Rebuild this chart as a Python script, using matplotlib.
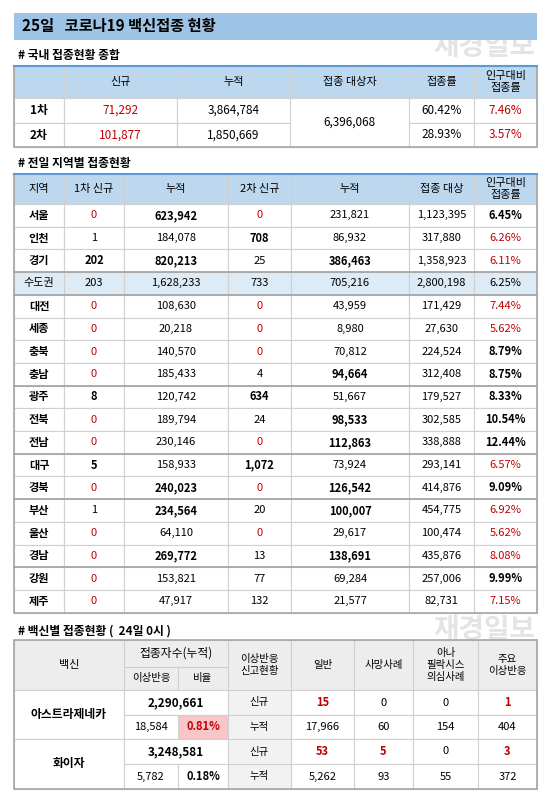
import matplotlib.pyplot as plt
from matplotlib.patches import Rectangle

plt.rcParams['font.family'] = ['Noto Sans CJK KR', 'DejaVu Sans']

RED = '#C00000'
HEAD = '#BDD7EE'
GRID = '#D0D0D0'

# table 1: national summary
t1_head = ['', '신규', '누적', '접종 대상자', '접종률', '인구대비\n접종률']
t1_rows = ['1차', '2차']
t1_new = ['71,292', '101,877']
t1_cum = ['3,864,784', '1,850,669']
t1_target = '6,396,068'
t1_rate = ['60.42%', '28.93%']
t1_pop = ['7.46%', '3.57%']

# table 2: by region
t2_head = ['지역', '1차 신규', '누적', '2차 신규', '누적', '접종 대상', '인구대비\n접종률']
regions = ['서울', '인천', '경기', '수도권', '대전', '세종', '충북', '충남', '광주', '전북',
           '전남', '대구', '경북', '부산', '울산', '경남', '강원', '제주']
new1 = ['0', '1', '202', '203', '0', '0', '0', '0', '8', '0', '0', '5', '0', '1', '0', '0', '0', '0']
cum1 = ['623,942', '184,078', '820,213', '1,628,233', '108,630', '20,218', '140,570', '185,433',
        '120,742', '189,794', '230,146', '158,933', '240,023', '234,564', '64,110', '269,772',
        '153,821', '47,917']
new2 = ['0', '708', '25', '733', '0', '0', '0', '4', '634', '24', '0', '1,072', '0', '20', '0',
        '13', '77', '132']
cum2 = ['231,821', '86,932', '386,463', '705,216', '43,959', '8,980', '70,812', '94,664',
        '51,667', '98,533', '112,863', '73,924', '126,542', '100,007', '29,617', '138,691',
        '69,284', '21,577']
target = ['1,123,395', '317,880', '1,358,923', '2,800,198', '171,429', '27,630', '224,524',
          '312,408', '179,527', '302,585', '338,888', '293,141', '414,876', '454,775', '100,474',
          '435,876', '257,006', '82,731']
poprate = ['6.45%', '6.26%', '6.11%', '6.25%', '7.44%', '5.62%', '8.79%', '8.75%', '8.33%',
           '10.54%', '12.44%', '6.57%', '9.09%', '6.92%', '5.62%', '8.08%', '9.99%', '7.15%']
# style per cell: r = red, b = bold
st_new1 = ['r', '', 'b', '', 'r', 'r', 'r', 'r', 'b', 'r', 'r', 'b', 'r', '', 'r', 'r', 'r', 'r']
st_cum1 = ['b', '', 'b', '', '', '', '', '', '', '', '', '', 'b', 'b', '', 'b', '', '']
st_new2 = ['r', 'b', '', '', 'r', 'r', 'r', '', 'b', '', 'r', 'b', 'r', '', 'r', '', '', '']
st_cum2 = ['', '', 'b', '', '', '', '', 'b', '', 'b', 'b', '', 'b', 'b', '', 'b', '', '']
st_pop = ['b', 'r', 'r', '', 'r', 'r', 'b', 'b', 'b', 'b', 'b', 'r', 'b', 'r', 'r', 'r', 'b', 'r']
group_ends = [2, 3, 7, 10, 12, 15]

# table 3: by vaccine
vaccines = ['아스트라제네카', '화이자']
v_total = ['2,290,661', '3,248,581']
v_adverse = ['18,584', '5,782']
v_ratio = ['0.81%', '0.18%']
v_new = [['15', '0', '0', '1'], ['53', '5', '0', '3']]
v_cum = [['17,966', '60', '154', '404'], ['5,262', '93', '55', '372']]

fig = plt.figure(figsize=(5.5, 7.98), dpi=100)
ax = fig.add_axes([0, 0, 1, 1])
ax.set_xlim(0, 550)
ax.set_ylim(798, 0)
ax.axis('off')


def cell(x0, x1, y0, y1, txt='', fc='white', st='', fs=8.5, color='black', ec=GRID, lw=0.8):
    ax.add_patch(Rectangle((x0, y0), x1 - x0, y1 - y0, fc=fc, ec=ec, lw=lw))
    if txt:
        ax.text((x0 + x1) / 2, (y0 + y1) / 2, txt, ha='center', va='center', fontsize=fs,
                color=RED if 'r' in st else color,
                fontweight='bold' if 'b' in st else 'normal', linespacing=1.3)


# watermark
for wy in (47, 630):
    ax.text(535, wy, '재경일보', ha='right', va='center', fontsize=20, color='#E4E4E4',
            fontweight='bold', zorder=0)

# title
ax.add_patch(Rectangle((14, 13), 523, 27, fc='#9DC3E6', ec='none'))
ax.text(22, 26.5, '25일   코로나19 백신접종 현황', fontsize=11, fontweight='bold', va='center')

# table 1
ax.text(18, 55, '# 국내 접종현황 종합', fontsize=8.5, fontweight='bold', va='center')
xs1 = [14, 64, 177, 290, 409, 474, 537]
ty1 = [66, 98, 123, 147]
for i, h in enumerate(t1_head):
    cell(xs1[i], xs1[i + 1], ty1[0], ty1[1], h, fc=HEAD, fs=8)
for r in range(2):
    y0, y1 = ty1[1 + r], ty1[2 + r]
    cell(xs1[0], xs1[1], y0, y1, t1_rows[r], st='b')
    cell(xs1[1], xs1[2], y0, y1, t1_new[r], st='r')
    cell(xs1[2], xs1[3], y0, y1, t1_cum[r])
    cell(xs1[4], xs1[5], y0, y1, t1_rate[r])
    cell(xs1[5], xs1[6], y0, y1, t1_pop[r], st='r')
cell(xs1[3], xs1[4], ty1[1], ty1[3], t1_target)
ax.plot([14, 537], [ty1[0], ty1[0]], color='#5B9BD5', lw=1.5)
ax.add_patch(Rectangle((14, ty1[0]), 523, ty1[3] - ty1[0], fc='none', ec='#A6A6A6', lw=1.2))

# table 2
ax.text(18, 164, '# 전일 지역별 접종현황', fontsize=8.5, fontweight='bold', va='center')
xs2 = [14, 64, 124, 228, 291, 409, 474, 537]
top2 = 174
hh2 = 30
rh = 22.7
for i, h in enumerate(t2_head):
    cell(xs2[i], xs2[i + 1], top2, top2 + hh2, h, fc=HEAD, fs=8)
for r in range(len(regions)):
    y0 = top2 + hh2 + r * rh
    y1 = y0 + rh
    fc = '#DDEBF7' if regions[r] == '수도권' else 'white'
    vals = [regions[r], new1[r], cum1[r], new2[r], cum2[r], target[r], poprate[r]]
    sts = ['' if regions[r] == '수도권' else 'b', st_new1[r], st_cum1[r], st_new2[r],
           st_cum2[r], '', st_pop[r]]
    for c in range(7):
        cell(xs2[c], xs2[c + 1], y0, y1, vals[c], fc=fc, st=sts[c], fs=8)
    if r in group_ends:
        ax.plot([14, 537], [y1, y1], color='#A6A6A6', lw=1.3)
bot2 = top2 + hh2 + len(regions) * rh
ax.plot([14, 537], [top2, top2], color='#5B9BD5', lw=1.5)
ax.add_patch(Rectangle((14, top2), 523, bot2 - top2, fc='none', ec='#A6A6A6', lw=1.2))

# table 3
ax.text(18, 631, '# 백신별 접종현황 (  24일 0시 )', fontsize=8.5, fontweight='bold', va='center')
xs3 = [14, 124, 178, 228, 291, 354, 413, 478, 537]
GRAY = '#EDEDED'
t3y = [640, 667, 690, 715, 739, 764, 789]
cell(xs3[0], xs3[1], t3y[0], t3y[2], '백신', fc=GRAY, fs=8)
cell(xs3[1], xs3[3], t3y[0], t3y[1], '접종자수(누적)', fc=GRAY, fs=8.5)
cell(xs3[1], xs3[2], t3y[1], t3y[2], '이상반응', fc=GRAY, fs=7.5)
cell(xs3[2], xs3[3], t3y[1], t3y[2], '비율', fc=GRAY, fs=7.5)
for i, h in enumerate(['이상반응\n신고현황', '일반', '사망사례', '아나\n필락시스\n의심사례', '주요\n이상반응']):
    cell(xs3[3 + i], xs3[4 + i], t3y[0], t3y[2], h, fc=GRAY, fs=7.5)
for v in range(2):
    ya, yb, yc = t3y[2 + 2 * v], t3y[3 + 2 * v], t3y[4 + 2 * v]
    cell(xs3[0], xs3[1], ya, yc, vaccines[v], st='b', fs=8.5)
    cell(xs3[1], xs3[3], ya, yb, v_total[v], st='b', fs=8.5)
    cell(xs3[1], xs3[2], yb, yc, v_adverse[v], fs=8)
    cell(xs3[2], xs3[3], yb, yc, v_ratio[v], st='rb' if v == 0 else 'b', fs=8,
         fc='#F8C6C9' if v == 0 else 'white')
    cell(xs3[3], xs3[4], ya, yb, '신규', fc='#F2F2F2', fs=7.5)
    cell(xs3[3], xs3[4], yb, yc, '누적', fc='#F2F2F2', fs=7.5)
    for k in range(4):
        nv = v_new[v][k]
        cell(xs3[4 + k], xs3[5 + k], ya, yb, nv, st='' if nv == '0' else 'rb', fs=8)
        cell(xs3[4 + k], xs3[5 + k], yb, yc, v_cum[v][k], fs=8)
ax.add_patch(Rectangle((14, t3y[0]), 523, t3y[-1] - t3y[0], fc='none', ec='#A6A6A6', lw=1.2))

fig.savefig('out.png', dpi=100)
